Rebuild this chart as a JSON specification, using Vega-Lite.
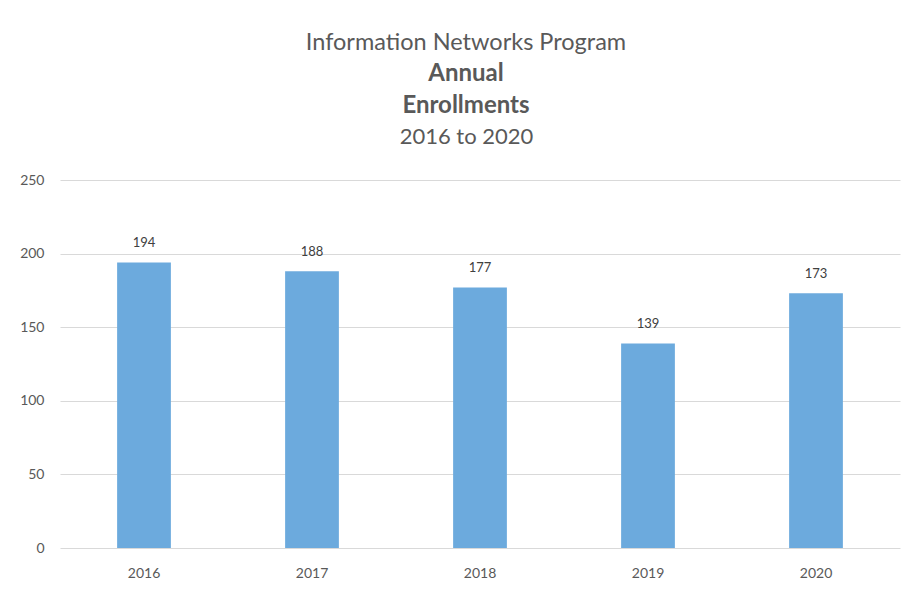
{
  "$schema": "https://vega.github.io/schema/vega-lite/v6.json",
  "autosize": {"type": "none"},
  "padding": {"left": 60, "top": 180, "right": 9, "bottom": 43},
  "width": 840,
  "height": 368,
  "background": "white",
  "config": {"view": {"stroke": null}, "font": "Lato"},
  "title": {
    "text": "Information Networks Program",
    "subtitle": ["Annual", "Enrollments"],
    "anchor": "middle",
    "dx": -14,
    "font": "Lato",
    "fontSize": 23.5,
    "fontWeight": "normal",
    "color": "#595959",
    "subtitleFont": "Lato",
    "subtitleFontSize": 24,
    "subtitleFontWeight": "bold",
    "subtitleColor": "#595959",
    "subtitleLineHeight": 32,
    "subtitlePadding": 8,
    "offset": 7
  },
  "data": {
    "values": [
      {"year": "2016", "enrollments": 194},
      {"year": "2017", "enrollments": 188},
      {"year": "2018", "enrollments": 177},
      {"year": "2019", "enrollments": 139},
      {"year": "2020", "enrollments": 173}
    ]
  },
  "resolve": {"axis": {"x": "independent"}},
  "layer": [
    {
      "mark": {"type": "bar", "color": "#6CAADD"},
      "encoding": {
        "x": {
          "field": "year", "type": "nominal",
          "scale": {"paddingInner": 0.68, "paddingOuter": 0.34},
          "axis": {"title": null, "labelAngle": 0, "domain": false, "ticks": false, "labelPadding": 18, "labelFontSize": 14, "labelColor": "#595959", "labelFont": "Lato"}
        },
        "y": {
          "field": "enrollments", "type": "quantitative",
          "scale": {"domain": [0, 250], "nice": false},
          "axis": {"title": null, "values": [0, 50, 100, 150, 200, 250], "domain": false, "ticks": false, "labelPadding": 16, "labelFontSize": 14, "labelColor": "#595959", "gridColor": "#d9d9d9", "labelFont": "Lato"}
        }
      }
    },
    {
      "mark": {"type": "text", "baseline": "bottom", "dy": -12, "fontSize": 13, "color": "#404040", "font": "Lato"},
      "encoding": {
        "x": {
          "field": "year", "type": "nominal",
          "axis": {"orient": "top", "title": "2016 to 2020", "labels": false, "domain": false, "ticks": false, "titleFontSize": 22, "titleFontWeight": "normal", "titleColor": "#595959", "titleFont": "Lato", "titlePadding": 32, "titleX": 406, "titleAlign": "center", "titleAnchor": null}
        },
        "y": {"field": "enrollments", "type": "quantitative", "scale": {"domain": [0, 250], "nice": false}},
        "text": {"field": "enrollments", "type": "quantitative"}
      }
    }
  ]
}
